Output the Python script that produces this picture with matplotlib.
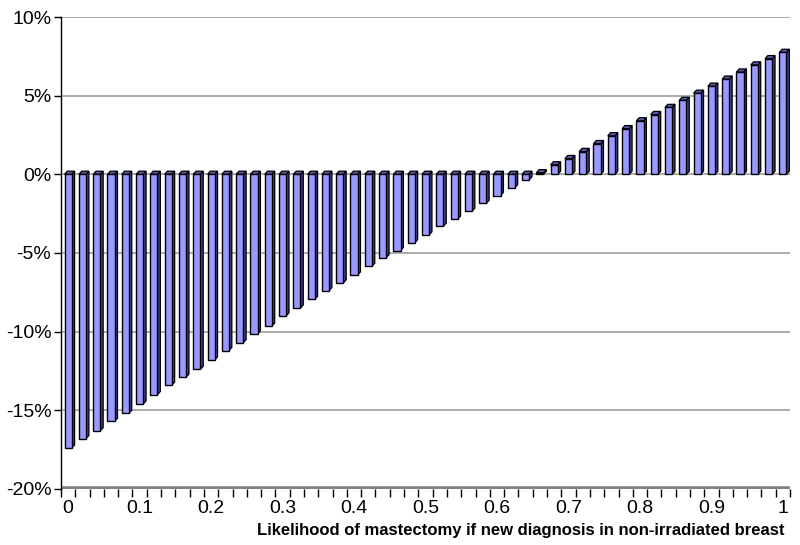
import matplotlib
matplotlib.use("Agg")
import matplotlib.pyplot as plt
from matplotlib.patches import Polygon, Rectangle

# ---- data ----
x_values = [round(i * 0.02, 2) for i in range(51)]
effect_pct = [-17.4, -16.8, -16.3, -15.7, -15.2, -14.6, -14.0, -13.4, -12.9, -12.4,
              -11.8, -11.2, -10.7, -10.15, -9.65, -9.0, -8.5, -7.95, -7.4, -6.9,
              -6.4, -5.85, -5.3, -4.85, -4.35, -3.85, -3.3, -2.85, -2.35, -1.85,
              -1.35, -0.85, -0.35, 0.1, 0.6, 1.0, 1.45, 1.95, 2.45, 2.9,
              3.4, 3.8, 4.25, 4.7, 5.15, 5.6, 6.05, 6.5, 6.95, 7.35, 7.75]
x_tick_labels = ["0", "0.1", "0.2", "0.3", "0.4", "0.5", "0.6", "0.7", "0.8", "0.9", "1"]
y_ticks = [10, 5, 0, -5, -10, -15, -20]
y_tick_labels = ["10%", "5%", "0%", "-5%", "-10%", "-15%", "-20%"]
x_label = "Likelihood of mastectomy if new diagnosis in non-irradiated breast"

plt.rcParams['font.family'] = ['Liberation Sans', 'DejaVu Sans']

fig = plt.figure(figsize=(8.0, 5.45), dpi=100)
ax = fig.add_axes([0.07625, 0.1028, 0.9113, 0.866])

n = len(effect_pct)
ax.set_xlim(-0.5, n - 0.5)
ax.set_ylim(-20, 10)

# gridlines
for yt in y_ticks[:-1]:
    ax.axhline(yt, color="#a6a6a6", lw=1.3, zorder=1)
# floor
ax.axhline(-20, color="#808080", lw=4, zorder=2)

front = "#9999ff"
side = "#43438f"
top = "#5a5ab0"
w = 0.5
dx = 0.2
dy = 0.2
for i, v in enumerate(effect_pct):
    x0 = i - w / 2
    x1 = i + w / 2
    lo, hi = min(0, v), max(0, v)
    # side face
    ax.add_patch(Polygon([(x1, lo), (x1 + dx, lo + dy), (x1 + dx, hi + dy), (x1, hi)],
                         closed=True, facecolor=side, edgecolor="black", lw=0.9, zorder=3))
    # top face
    ax.add_patch(Polygon([(x0, hi), (x0 + dx, hi + dy), (x1 + dx, hi + dy), (x1, hi)],
                         closed=True, facecolor=top, edgecolor="black", lw=0.9, zorder=3))
    # front face
    ax.add_patch(Rectangle((x0, lo), w, hi - lo, facecolor=front,
                           edgecolor="black", lw=1.0, zorder=4))

# axes styling
for s in ["top", "right", "bottom"]:
    ax.spines[s].set_visible(False)
ax.spines["left"].set_color("black")
ax.spines["left"].set_linewidth(1.0)

ax.set_yticks(y_ticks)
ax.set_yticklabels(y_tick_labels, fontsize=14)
ax.tick_params(axis="y", direction="out", length=5, width=1, pad=2)

# x ticks: minor at category boundaries, labels every 5 categories
ax.set_xticks([i - 0.5 for i in range(n + 1)], minor=True)
ax.set_xticks(list(range(0, n, 5)))
ax.set_xticklabels(x_tick_labels, fontsize=14)
ax.tick_params(axis="x", which="major", length=0, pad=8)
ax.tick_params(axis="x", which="minor", direction="out", length=6, width=1, color="black")

fig.text(0.981, 0.027, x_label, ha="right", va="center", fontsize=12, fontweight="bold")

fig.savefig("out.png", dpi=100)
